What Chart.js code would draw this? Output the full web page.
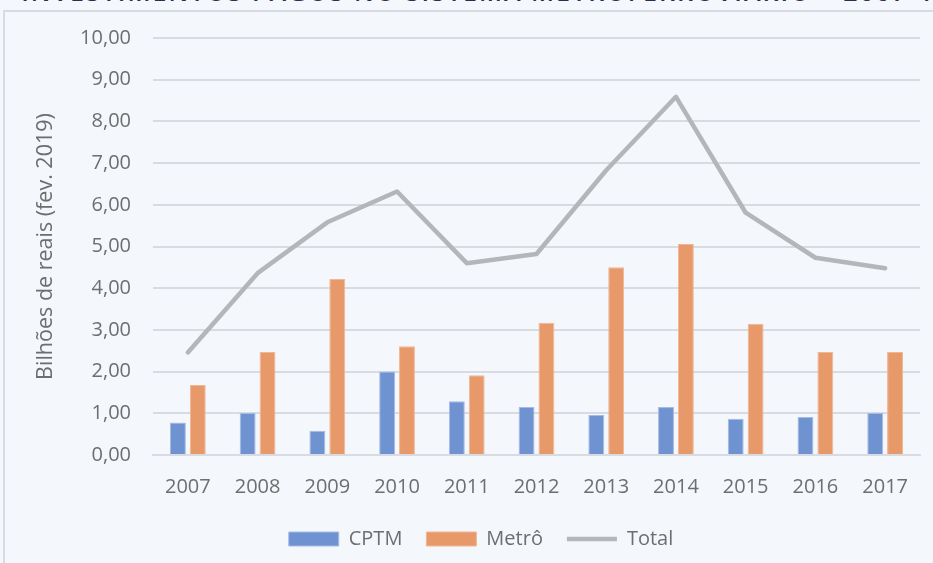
<!DOCTYPE html>
<html>
<head>
<meta charset="utf-8">
<script src="https://cdn.jsdelivr.net/npm/chart.js@4"></script>
<style>
  html, body { margin: 0; padding: 0; background: #f4f7fc; overflow: hidden; }
  #title { position: absolute; right: -18px; top: -21px; white-space: nowrap; line-height: 25px;
    font: 600 25px/25px "Open Sans", sans-serif; letter-spacing: 2px; color: #2c2e4e; }
  #panel { position: absolute; left: 3px; top: 10px; width: 960px; height: 600px;
    border: 2px solid #d8dbe1; background: #f4f7fc; }
  #wrap { position: absolute; left: 0; top: 0; width: 933px; height: 563px; }
</style>
</head>
<body>
<div id="title">TABELA 4 – INVESTIMENTOS PAGOS NO SISTEMA METROFERROVIÁRIO – 2007-17</div>
<div id="panel"></div>
<div id="wrap"><canvas id="chart" width="933" height="563"></canvas></div>
<script>
const years = ['2007', '2008', '2009', '2010', '2011', '2012', '2013', '2014', '2015', '2016', '2017'];
const cptm  = [0.78, 1.01, 0.58, 2.00, 1.29, 1.15, 0.96, 1.15, 0.87, 0.91, 1.01];
const metro = [1.68, 2.47, 4.22, 2.61, 1.91, 3.17, 4.50, 5.06, 3.15, 2.47, 2.47];
const total = [2.46, 4.36, 5.58, 6.32, 4.60, 4.82, 6.83, 8.59, 5.81, 4.73, 4.48];

const font = { family: '"Open Sans", sans-serif', size: 20 };
const textColor = '#6e6e6e';

new Chart(document.getElementById('chart'), {
  type: 'bar',
  data: {
    labels: years,
    datasets: [
      { label: 'CPTM', data: cptm, backgroundColor: '#6f92d1', borderColor: '#a6bbe4',
        borderWidth: 1, pointStyle: 'rect', order: 2 },
      { label: 'Metrô', data: metro, backgroundColor: '#e8996a', borderColor: '#f0b793',
        borderWidth: 1, pointStyle: 'rect', order: 2 },
      { label: 'Total', data: total, type: 'line', borderColor: '#b4b6ba', backgroundColor: '#b4b6ba',
        borderWidth: 4.5, borderCapStyle: 'round', borderJoinStyle: 'round',
        pointRadius: 0, pointStyle: 'line', tension: 0, order: 1 }
    ]
  },
  options: {
    responsive: false,
    animation: false,
    // left padding shifts the legend to the right; y axis width shrinks to match
    layout: { padding: { top: 38, right: 13, bottom: 4, left: 42 } },
    datasets: { bar: { categoryPercentage: 0.57, barPercentage: 0.8 } },
    plugins: {
      tooltip: { enabled: false },
      legend: {
        position: 'bottom',
        labels: {
          usePointStyle: true, pointStyleWidth: 50, boxHeight: 14,
          color: textColor, font, padding: 24,
          sort: (a, b) => a.datasetIndex - b.datasetIndex
        }
      }
    },
    scales: {
      x: {
        grid: { display: false, drawTicks: false },
        border: { display: true, color: '#d8dbe1', width: 2 },
        ticks: { color: textColor, font, padding: 20 },
        afterFit: s => { s.height = 50; }
      },
      y: {
        min: 0, max: 10,
        grid: { color: '#d8dbe1', lineWidth: 2, drawTicks: false },
        border: { display: false },
        ticks: { stepSize: 1, color: textColor, font, padding: 22,
          callback: v => v.toFixed(2).replace('.', ',') },
        title: { display: true, text: 'Bilhões de reais (fev. 2019)', color: textColor,
          font: { family: '"Open Sans", sans-serif', size: 21.5 }, padding: { top: -9 } },
        afterFit: s => { s.width = 111; }
      }
    }
  }
});
</script>
</body>
</html>
